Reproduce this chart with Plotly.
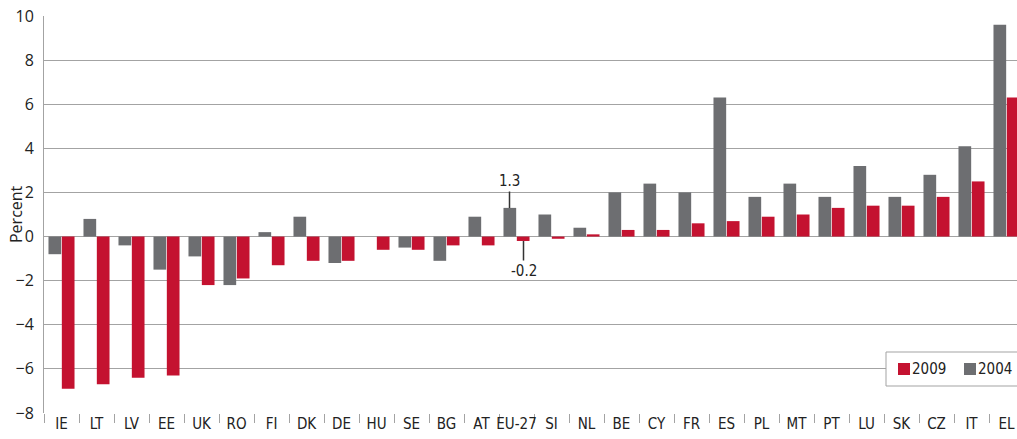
import plotly.graph_objects as go

categories = ["IE", "LT", "LV", "EE", "UK", "RO", "FI", "DK", "DE", "HU", "SE", "BG", "AT", "EU-27",
              "SI", "NL", "BE", "CY", "FR", "ES", "PL", "MT", "PT", "LU", "SK", "CZ", "IT", "EL"]
values_2004 = [-0.8, 0.8, -0.4, -1.5, -0.9, -2.2, 0.2, 0.9, -1.2, 0.0, -0.5, -1.1, 0.9, 1.3,
               1.0, 0.4, 2.0, 2.4, 2.0, 6.3, 1.8, 2.4, 1.8, 3.2, 1.8, 2.8, 4.1, 9.6]
values_2009 = [-6.9, -6.7, -6.4, -6.3, -2.2, -1.9, -1.3, -1.1, -1.1, -0.6, -0.6, -0.4, -0.4, -0.2,
               -0.1, 0.1, 0.3, 0.3, 0.6, 0.7, 0.9, 1.0, 1.3, 1.4, 1.4, 1.8, 2.5, 6.3]
y_ticks = [-8, -6, -4, -2, 0, 2, 4, 6, 8, 10]
legend_labels = ["2009", "2004"]

GRAY = "#6d6e71"
RED = "#c41230"
GRID = "#a3a3a3"
TXT = "#222222"
NARROW = "DejaVu Sans Condensed, Liberation Sans Narrow, Roboto, sans-serif"

fig = go.Figure()
fig.add_trace(go.Bar(x=categories, y=values_2004, name="2004", marker=dict(color=GRAY, line=dict(width=0))))
fig.add_trace(go.Bar(x=categories, y=values_2009, name="2009", marker=dict(color=RED, line=dict(width=0))))

eu = categories.index("EU-27")
fig.add_annotation(x=eu, y=values_2004[eu], xshift=-7, text="1.3", showarrow=True, arrowhead=0,
                   arrowwidth=1.5, arrowcolor="#333333", ax=0, ay=-27, standoff=0,
                   font=dict(family=NARROW, size=15, color=TXT))
fig.add_annotation(x=eu, y=values_2009[eu], xshift=7, text="-0.2", showarrow=True, arrowhead=0,
                   arrowwidth=1.5, arrowcolor="#333333", ax=0, ay=30, standoff=0,
                   font=dict(family=NARROW, size=15, color=TXT))

# page pixel -> paper coordinates (plot area spans page x 44..1017, y 16..413)
L, R, T, B = 44, 1017, 16, 413
def px(xp):
    return (xp - L) / (R - L)
def py(yp):
    return (B - yp) / (B - T)

# y-axis title
fig.add_annotation(xref="paper", yref="paper", x=px(16), y=py(214), text="Percent", textangle=-90,
                   showarrow=False, xanchor="center", yanchor="middle",
                   font=dict(family="Open Sans, sans-serif", size=16, color=TXT))

# legend box with swatches
fig.add_shape(type="rect", xref="paper", yref="paper", x0=px(886), x1=px(1030), y0=py(386), y1=py(352),
              line=dict(color=GRID, width=1), fillcolor="white", layer="above")
swatch_colors = [RED, GRAY]
swatch_x = [898, 964]
for lab, col, sx in zip(legend_labels, swatch_colors, swatch_x):
    fig.add_shape(type="rect", xref="paper", yref="paper", x0=px(sx), x1=px(sx + 12),
                  y0=py(375), y1=py(363), line=dict(width=0), fillcolor=col, layer="above")
    fig.add_annotation(xref="paper", yref="paper", x=px(sx + 13), y=py(369), xanchor="left", yanchor="middle",
                       text=lab, showarrow=False, borderpad=0,
                       font=dict(family=NARROW, size=15, color=TXT))

fig.update_layout(
    width=1017, height=439,
    margin=dict(l=44, r=0, t=16, b=26, autoexpand=False),
    paper_bgcolor="white", plot_bgcolor="white",
    barmode="group", bargap=0.237, bargroupgap=0.05,
    showlegend=False,
    xaxis=dict(range=[-0.5, 27.3], showgrid=False, showline=False, tickangle=0, automargin=False,
               ticks="outside", tickson="boundaries", ticklen=9, tickcolor=GRID, tickwidth=1,
               ticklabeloverflow="allow",
               tickfont=dict(family=NARROW, size=15, color=TXT), fixedrange=True),
    yaxis=dict(range=[-8, 10], tickvals=y_ticks, showgrid=True, gridcolor=GRID, gridwidth=1,
               zeroline=True, zerolinecolor=GRID, zerolinewidth=1, automargin=False,
               showline=True, linecolor=GRID, linewidth=1, ticks="", ticklabelstandoff=6,
               ticklabeloverflow="allow",
               tickfont=dict(family="Open Sans, sans-serif", size=16, color=TXT)),
)

# remove the default page margin so the figure sits at the window's top-left corner
fig.write_html("out.html", config={"displayModeBar": False},
               post_script="document.body.style.margin='0';")
